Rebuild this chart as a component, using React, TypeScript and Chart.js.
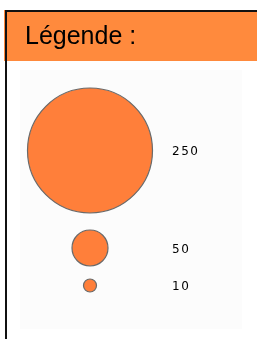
import React, { useEffect, useRef } from "react";
import { Chart, registerables } from "chart.js";

Chart.register(...registerables);

const titleText = "Légende :";
const bubbleValues = [250, 50, 10];
const bubbleLabels = ["250", "50", "10"];
const bubbleRadii = [62.5, 18, 6.5];
const bubbleGaps = [17, 13];

const W = 257;
const H = 339;

const framePlugin = {
  id: "frame",
  beforeDraw(chart: any) {
    const ctx = chart.ctx;
    ctx.save();
    ctx.fillStyle = "#ffffff";
    ctx.fillRect(0, 0, W, H);
    ctx.fillStyle = "#fcfcfc";
    ctx.fillRect(20, 70, 222, 259);
    ctx.fillStyle = "#ff8a3d";
    ctx.fillRect(4, 10, W - 4, 51);
    ctx.fillStyle = "#111111";
    ctx.fillRect(6, 10, W - 6, 2);
    ctx.fillRect(5, 10, 2, H - 10);
    ctx.fillStyle = "#000000";
    ctx.font = '25px "Liberation Sans", Arial, sans-serif';
    ctx.textBaseline = "alphabetic";
    ctx.textAlign = "left";
    ctx.fillText(titleText, 25, 44);
    ctx.restore();
  },
  afterDatasetsDraw(chart: any) {
    const ctx = chart.ctx;
    const meta = chart.getDatasetMeta(0);
    ctx.save();
    ctx.fillStyle = "#000000";
    ctx.font = '12px "DejaVu Sans", Verdana, sans-serif';
    (ctx as any).letterSpacing = "1.5px";
    ctx.textBaseline = "middle";
    ctx.textAlign = "left";
    meta.data.forEach((el: any, i: number) => {
      ctx.fillText(bubbleLabels[i], 172, el.y + 1.5);
    });
    ctx.restore();
  },
};

export default function App() {
  const ref = useRef<HTMLCanvasElement | null>(null);
  useEffect(() => {
    document.body.style.margin = "0";
    if (!ref.current) return;
    let cursor = 88;
    const points = bubbleValues.map((v, i) => {
      const r = bubbleRadii[i];
      const y = cursor + r;
      cursor = y + r + (bubbleGaps[i] || 0);
      return { x: 90, y, r, v };
    });
    const chart = new Chart(ref.current, {
      type: "bubble",
      data: {
        datasets: [
          {
            label: titleText,
            data: points,
            backgroundColor: "#ff7f3a",
            borderColor: "#6a6a6a",
            borderWidth: 1.2,
            clip: false,
          } as any,
        ],
      },
      options: {
        responsive: false,
        animation: false,
        events: [],
        layout: { padding: 0, autoPadding: false },
        plugins: {
          legend: { display: false },
          tooltip: { enabled: false },
          title: { display: false },
        },
        scales: {
          x: { type: "linear", min: 0, max: W, display: false },
          y: { type: "linear", min: 0, max: H, reverse: true, display: false },
        },
      } as any,
      plugins: [framePlugin],
    });
    return () => chart.destroy();
  }, []);
  return (
    <div style={{ width: W, height: H }}>
      <canvas ref={ref} width={W} height={H} style={{ display: "block", width: W, height: H }} />
    </div>
  );
}
